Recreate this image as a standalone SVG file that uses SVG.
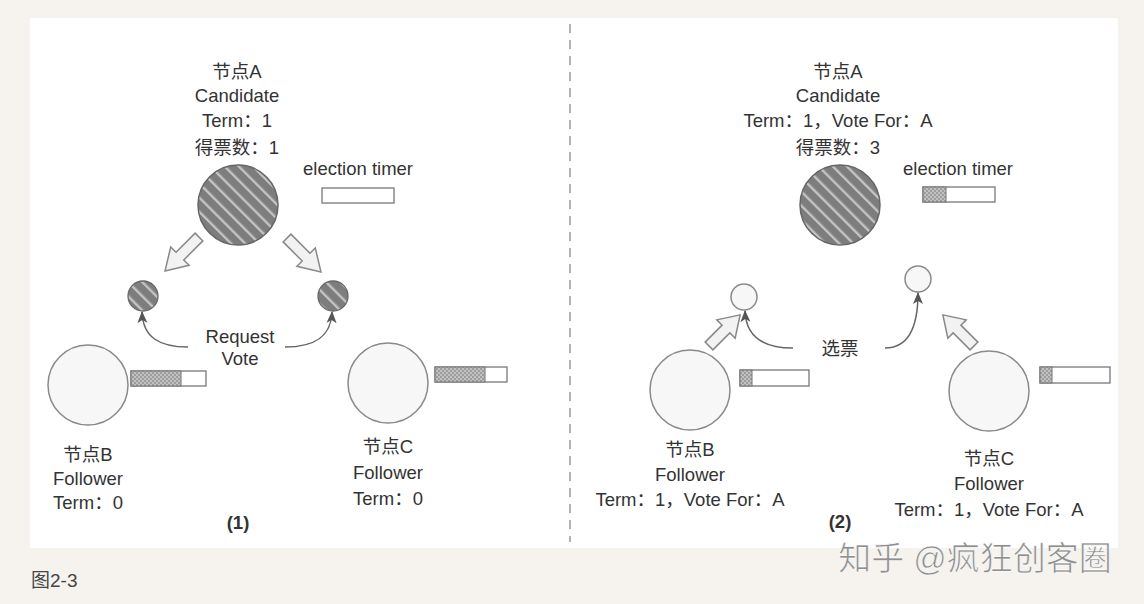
<svg xmlns="http://www.w3.org/2000/svg" width="1144" height="604" viewBox="0 0 1144 604">
<defs>
<pattern id="stripe" patternUnits="userSpaceOnUse" width="10" height="10" patternTransform="rotate(-45)">
<rect width="10" height="10" fill="#7d7d7d"/>
<rect x="0" y="0" width="2.4" height="10" fill="#c4c4c4"/>
</pattern>
<pattern id="dots" patternUnits="userSpaceOnUse" width="4" height="4">
<rect width="4" height="4" fill="#c2c2c2"/>
<rect x="0" y="0" width="2" height="2" fill="#9c9c9c"/>
<rect x="2" y="2" width="2" height="2" fill="#9c9c9c"/>
</pattern>
<marker id="tip" viewBox="0 0 12 12" refX="11" refY="6" markerWidth="12" markerHeight="12" markerUnits="userSpaceOnUse" orient="auto">
<path d="M0,1 L12,6 L0,11 L3,6 Z" fill="#555"/>
</marker>
</defs>
<style>
text{font-family:"Liberation Sans","Noto Sans CJK SC",sans-serif;font-size:18.5px;fill:#333;text-anchor:middle}
.big{fill:url(#stripe);stroke:#666;stroke-width:1.5}
.small{fill:url(#stripe);stroke:#666;stroke-width:1.3}
.foll{fill:#f7f7f7;stroke:#8a8a8a;stroke-width:1.5}
.tbar{fill:#fff;stroke:#777;stroke-width:1.3}
.tfill{fill:url(#dots);stroke:#777;stroke-width:1}
.blk{fill:#f2f2f2;stroke:#888;stroke-width:1.5;stroke-linejoin:miter}
.cur{fill:none;stroke:#666;stroke-width:1.5;marker-end:url(#tip)}
.bold{font-weight:bold}
</style>
<rect width="1144" height="604" fill="#f6f3ee"/>
<rect x="30" y="18" width="1088" height="530" fill="#fff"/>
<line x1="570" y1="24" x2="570" y2="542" stroke="#8a8a8a" stroke-width="1.3" stroke-dasharray="9,7"/>

<!-- Left panel -->
<g id="nodeA1">
<text x="237" y="78">节点A</text>
<text x="237" y="102">Candidate</text>
<text x="237" y="127">Term：1</text>
<text x="237" y="154">得票数：1</text>
<circle cx="238" cy="205" r="40" class="big"/>
</g>
<g id="timerA1">
<text x="358" y="175">election timer</text>
<rect x="322" y="188" width="72" height="15" class="tbar"/>
</g>
<g id="msgB1"><circle cx="143" cy="296" r="15" class="small"/></g>
<g id="msgC1"><circle cx="333" cy="296" r="15" class="small"/></g>
<g id="nodeB1">
<circle cx="88" cy="385" r="40" class="foll"/>
<rect x="131" y="371" width="75" height="15" class="tbar"/>
<rect x="131" y="371" width="50" height="15" class="tfill"/>
<text x="88" y="461">节点B</text>
<text x="88" y="485">Follower</text>
<text x="88" y="509">Term：0</text>
</g>
<g id="nodeC1">
<circle cx="388" cy="383" r="40" class="foll"/>
<rect x="435" y="367" width="72" height="15" class="tbar"/>
<rect x="435" y="367" width="50" height="15" class="tfill"/>
<text x="388" y="453">节点C</text>
<text x="388" y="479">Follower</text>
<text x="388" y="505">Term：0</text>
</g>
<text x="240" y="343">Request</text>
<text x="240" y="365">Vote</text>
<text x="238" y="529" class="bold">(1)</text>

<!-- Right panel -->
<g id="nodeA2">
<text x="838" y="78">节点A</text>
<text x="838" y="102">Candidate</text>
<text x="838" y="127">Term：1，Vote For：A</text>
<text x="838" y="154">得票数：3</text>
<circle cx="840" cy="205" r="40" class="big"/>
</g>
<g id="timerA2">
<text x="958" y="175">election timer</text>
<rect x="923" y="187" width="72" height="15" class="tbar"/>
<rect x="923" y="187" width="23" height="15" class="tfill"/>
</g>
<g id="voteB2"><circle cx="744" cy="297" r="13" class="foll"/></g>
<g id="voteC2"><circle cx="918" cy="279" r="13" class="foll"/></g>
<g id="nodeB2">
<circle cx="690" cy="390" r="40" class="foll"/>
<rect x="740" y="370" width="69" height="16" class="tbar"/>
<rect x="740" y="370" width="12" height="16" class="tfill"/>
<text x="690" y="456">节点B</text>
<text x="690" y="481">Follower</text>
<text x="690" y="506">Term：1，Vote For：A</text>
</g>
<g id="nodeC2">
<circle cx="989" cy="391" r="40" class="foll"/>
<rect x="1040" y="367" width="70" height="16" class="tbar"/>
<rect x="1040" y="367" width="12" height="16" class="tfill"/>
<text x="989" y="465">节点C</text>
<text x="989" y="490">Follower</text>
<text x="989" y="516">Term：1，Vote For：A</text>
</g>
<text x="840" y="355">选票</text>
<text x="840" y="528" class="bold">(2)</text>

<g id="connectors">
<g transform="translate(199,237) rotate(135)"><polygon class="blk" points="0,-5.5 27,-5.5 27,-13 48,0 27,13 27,5.5 0,5.5"/></g>
<g transform="translate(287,238) rotate(45)"><polygon class="blk" points="0,-5.5 27,-5.5 27,-13 48,0 27,13 27,5.5 0,5.5"/></g>
<g transform="translate(709,346) rotate(-45)"><polygon class="blk" points="0,-5.5 24,-5.5 24,-13 44,0 24,13 24,5.5 0,5.5"/></g>
<g transform="translate(974,346) rotate(-135)"><polygon class="blk" points="0,-5.5 24,-5.5 24,-13 44,0 24,13 24,5.5 0,5.5"/></g>
<path class="cur" d="M188,347 C160,347 143,338 142,312"/>
<path class="cur" d="M285,347 C313,347 331,338 332,312"/>
<path class="cur" d="M793,348 C765,348 746,338 745,311"/>
<path class="cur" d="M885,348 C910,348 918,325 918,293"/>
</g>

<text x="975" y="570" style="font-size:33px;fill:#8f8f8f;stroke:#fff;stroke-width:0.6">知乎 @疯狂创客圈</text>
<text x="31" y="587" style="font-size:19px;fill:#444;text-anchor:start">图2-3</text>
</svg>
